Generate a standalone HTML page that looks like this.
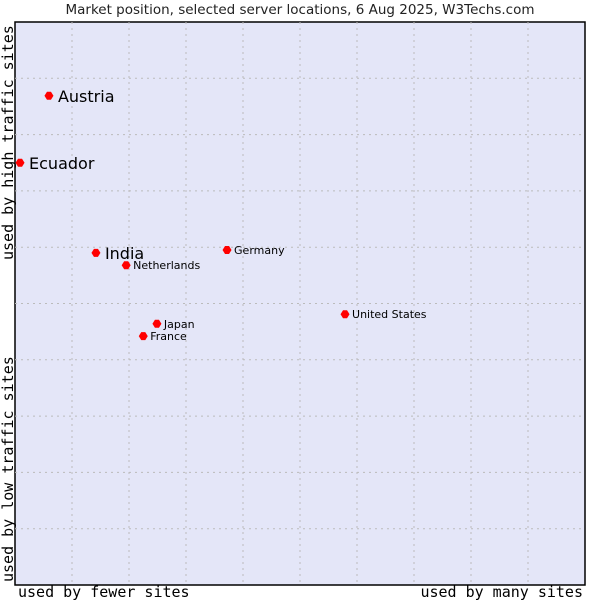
<!DOCTYPE html>
<html><head><meta charset="utf-8"><style>
body{margin:0;background:#fff;}
svg{display:block;}
</style></head><body>
<svg id="chart" width="600" height="600" xmlns="http://www.w3.org/2000/svg">
<text x="300" y="14" text-anchor="middle" font-family="DejaVu Sans, sans-serif" font-size="13.5" fill="#222">Market position, selected server locations, 6 Aug 2025, W3Techs.com</text>
<rect x="15" y="22" width="570" height="563" fill="#e4e6f8" stroke="#000" stroke-width="1.5"/>
<g id="grid"></g>
<g id="points"></g>
<text x="18" y="597" font-family="DejaVu Sans Mono, monospace" font-size="15" fill="#000">used by fewer sites</text>
<text x="583" y="597" text-anchor="end" font-family="DejaVu Sans Mono, monospace" font-size="15" fill="#000">used by many sites</text>
<text transform="translate(13,260) rotate(-90)" font-family="DejaVu Sans Mono, monospace" font-size="15" fill="#000">used by high traffic sites</text>
<text transform="translate(13,582) rotate(-90)" font-family="DejaVu Sans Mono, monospace" font-size="15" fill="#000">used by low traffic sites</text>
</svg>
<script>
const countries=["Austria","Ecuador","India","Netherlands","Germany","United States","Japan","France"];
const xValues=[5.96,0.88,14.2,19.5,37.2,57.9,24.9,22.5];
const yValues=[86.9,75.0,59.0,56.8,59.5,48.1,46.4,44.2];
const largeLabel=[true,true,true,false,false,false,false,false];
const NS="http://www.w3.org/2000/svg";
const L=15,R=585,T=22,B=585;
const xs=v=>L+v/100*(R-L);
const ys=v=>B-v/100*(B-T);
const grid=document.getElementById('grid');
for(let i=1;i<10;i++){
  const gx=document.createElementNS(NS,'line');
  
  
  gx.setAttribute('x1',xs(i*10));gx.setAttribute('x2',xs(i*10));
  gx.setAttribute('y1',T);gx.setAttribute('y2',B);
  gx.setAttribute('stroke','#bbb');gx.setAttribute('stroke-dasharray','2,4');
  grid.appendChild(gx);
  const gy=document.createElementNS(NS,'line');
  
  
  gy.setAttribute('y1',ys(i*10));gy.setAttribute('y2',ys(i*10));
  gy.setAttribute('x1',L);gy.setAttribute('x2',R);
  gy.setAttribute('stroke','#bbb');gy.setAttribute('stroke-dasharray','2,4');
  grid.appendChild(gy);
}
const pts=document.getElementById('points');
countries.forEach((c,i)=>{
  const x=xs(xValues[i]),y=ys(yValues[i]);
  const d=document.createElementNS(NS,'path');
  
  
  d.setAttribute('d',`M${x-4.5},${y}L${x-2},${y-4}L${x+2},${y-4}L${x+4.5},${y}L${x+2},${y+4}L${x-2},${y+4}Z`);
  d.setAttribute('fill','#f00');
  pts.appendChild(d);
  const t=document.createElementNS(NS,'text');
  
  
  const big=largeLabel[i];
  t.setAttribute('x',x+(big?9:7));
  t.setAttribute('y',y+(big?6:4));
  t.setAttribute('font-family','DejaVu Sans, sans-serif');
  t.setAttribute('font-size',big?16:11);
  t.setAttribute('fill','#000');
  t.textContent=c;
  pts.appendChild(t);
});
</script>
</body></html>
